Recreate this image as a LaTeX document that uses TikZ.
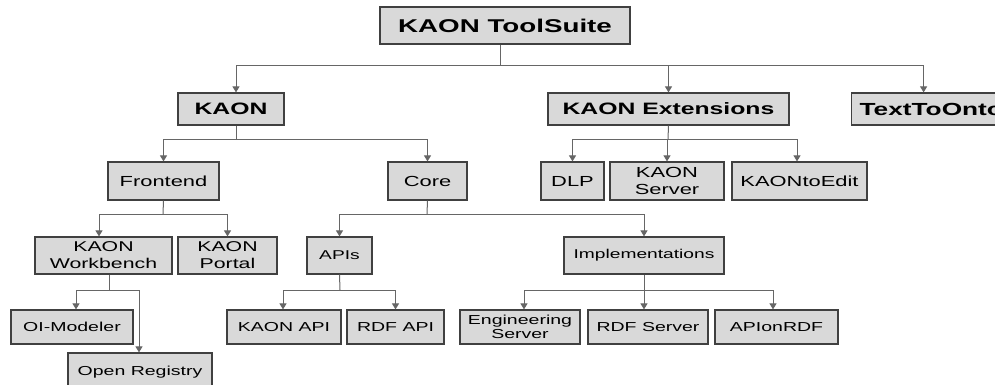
\documentclass[tikz,border=0pt]{standalone}
\usepackage{fontspec}
\newfontfamily\ff{Liberation Sans}[FakeStretch=1.5]
\usetikzlibrary{arrows.meta}
\begin{document}
\begin{tikzpicture}[x=1pt,y=-1pt,
  box/.style={draw=black!75, fill=gray!30, line width=1.2pt, inner sep=0pt, align=center, text=black},
  lva/.style={box, font=\ff\bfseries\fontsize{16.5}{19}\selectfont, minimum height=32pt},
  lvb/.style={box, font=\ff\fontsize{14.6}{17}\selectfont, minimum height=38pt},
  lvc/.style={box, font=\ff\fontsize{14.2}{17}\selectfont, minimum height=37pt},
  lvd/.style={box, font=\ff\fontsize{13}{14}\selectfont, minimum height=34pt},
  wire/.style={draw=black!60, line width=1pt},
  arr/.style={wire, -{Triangle[length=6pt,width=7pt]}}]
\useasboundingbox (0,0) rectangle (995,385);
\clip (0,0) rectangle (995,385);
\fill[white] (0,0) rectangle (995,385);

% level 0
\node[box, font=\ff\bfseries\fontsize{18.5}{21}\selectfont, minimum width=250pt, minimum height=37pt] (top) at (505,25.5) {KAON ToolSuite};
% level 1
\node[lva, minimum width=106pt] (kaon) at (231,109) {KAON};
\node[lva, minimum width=241pt] (ext) at (668.5,109) {KAON Extensions};
\node[lva, font=\ff\bfseries\fontsize{17.5}{19}\selectfont, anchor=west, text width=160pt, inner xsep=8pt, align=left] (tto) at (851,109) {TextToOnto};
% level 2
\node[lvb, minimum width=111pt] (front) at (163.5,181) {Frontend};
\node[lvb, minimum width=79pt] (core) at (427.5,181) {Core};
\node[lvb, minimum width=63pt] (dlp) at (572.5,181) {DLP};
\node[lvb, minimum width=114pt] (kserv) at (667,181) {KAON\\Server};
\node[lvb, minimum width=135pt] (kte) at (799.5,181) {KAONtoEdit};
% level 3
\node[lvc, minimum width=137pt] (wb) at (103.5,255.5) {KAON\\Workbench};
\node[lvc, minimum width=99pt] (portal) at (227.5,255.5) {KAON\\Portal};
\node[lvc, font=\ff\fontsize{12.8}{15}\selectfont, minimum width=65pt] (apis) at (339.5,255.5) {APIs};
\node[lvc, font=\ff\fontsize{12.8}{15}\selectfont, minimum width=160pt] (impl) at (644,255.5) {Implementations};
% level 4
\node[lvd, minimum width=122pt] (oim) at (72,327) {OI-Modeler};
\node[lvd, minimum width=144pt, minimum height=39pt] (openreg) at (140,372.5) {Open Registry};
\node[lvd, minimum width=114pt] (kapi) at (284,327) {KAON API};
\node[lvd, minimum width=97pt] (rdfapi) at (395.5,327) {RDF API};
\node[lvd, minimum width=120pt] (eng) at (520,327) {Engineering\\Server};
\node[lvd, minimum width=120pt] (rdfs) at (648,327) {RDF Server};
\node[lvd, minimum width=123pt] (apr) at (776.5,327) {APIonRDF};

% bus points
\coordinate (b0) at (500,66);
\coordinate (b1) at (236,139);
\coordinate (b2) at (668,139);
\coordinate (b3) at (163,214);
\coordinate (b4) at (427,214);
\coordinate (b5) at (109,290);
\coordinate (b6) at (340,290);
\coordinate (b7) at (644,290);

% connectors
\draw[wire] ([xshift=-5pt]top.south) -- (b0);
\draw[arr] (b0) -| ([xshift=5pt]kaon.north);
\draw[arr] (b0) -| (ext.north);
\draw[arr] (b0) -| ([xshift=-16pt]tto.north);

\draw[wire] ([xshift=5pt]kaon.south) -- (b1);
\draw[arr] (b1) -| (front.north);
\draw[arr] (b1) -| (core.north);

\draw[wire] (ext.south) -- (b2);
\draw[arr] (b2) -| (dlp.north);
\draw[arr] (b2) -| (kserv.north);
\draw[arr] (b2) -| ([xshift=-2.5pt]kte.north);

\draw[wire] (front.south) -- (b3);
\draw[arr] (b3) -| ([xshift=-4.5pt]wb.north);
\draw[arr] (b3) -| (portal.north);

\draw[wire] (core.south) -- (b4);
\draw[arr] (b4) -| (apis.north);
\draw[arr] (b4) -| (impl.north);

\draw[wire] ([xshift=5.5pt]wb.south) -- (b5);
\draw[arr] (b5) -| ([xshift=4pt]oim.north);
\draw[arr] (b5) -| ([xshift=-1pt]openreg.north);

\draw[wire] (apis.south) -- (b6);
\draw[arr] (b6) -| ([xshift=-1pt]kapi.north);
\draw[arr] (b6) -| (rdfapi.north);

\draw[wire] (impl.south) -- (b7);
\draw[arr] (b7) -| ([xshift=4pt]eng.north);
\draw[arr] (b7) -| ([xshift=-4pt]rdfs.north);
\draw[arr] (b7) -| ([xshift=-3.5pt]apr.north);
\end{tikzpicture}
\end{document}
